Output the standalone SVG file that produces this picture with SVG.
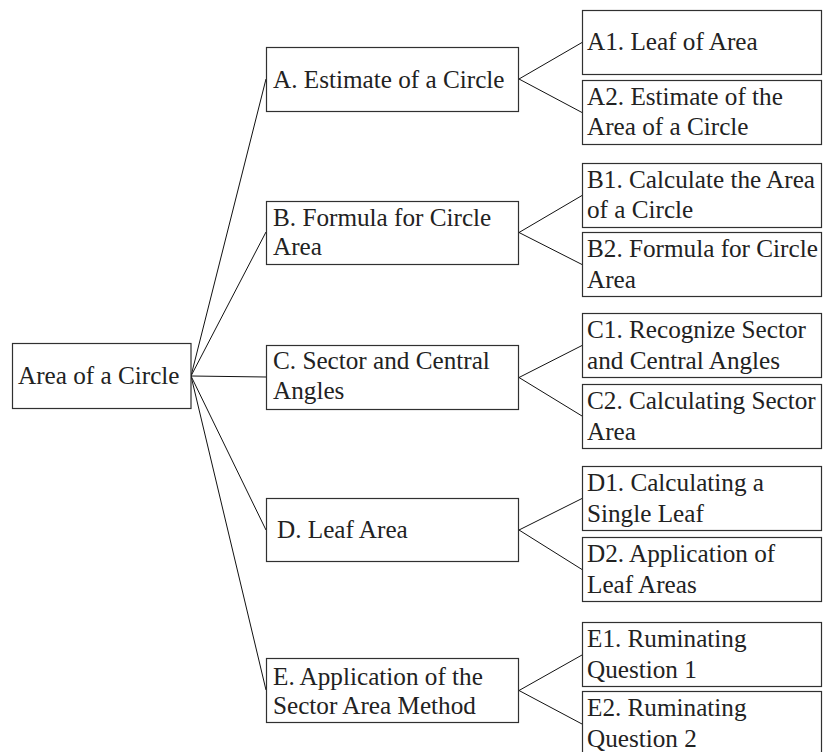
<svg xmlns="http://www.w3.org/2000/svg" width="823" height="752" viewBox="0 0 823 752">
  <style>
    .box { fill: #ffffff; stroke: #303030; stroke-width: 1.2; }
    .lbl { font-family: "Liberation Serif", "Times New Roman", serif; font-size: 25.2px; fill: #222222; }
    .link { fill: none; stroke: #111111; stroke-width: 1; }
  </style>
  <rect width="823" height="752" fill="#ffffff"/>

  <!-- connectors -->
  <g id="connectors" class="link">
    <path d="M191 376 L266 79"/>
    <path d="M191 376 L266 232"/>
    <path d="M191 376 L266 377"/>
    <path d="M191 376 L266 530"/>
    <path d="M191 376 L266 690"/>

    <path d="M519 79 L582 42.5"/>
    <path d="M519 79 L582 112.5"/>
    <path d="M519 232.5 L582 195.5"/>
    <path d="M519 232.5 L582 264.5"/>
    <path d="M519 377.5 L582 345.5"/>
    <path d="M519 377.5 L582 416"/>
    <path d="M519 530 L582 498.5"/>
    <path d="M519 530 L582 569.5"/>
    <path d="M519 690.5 L582 655"/>
    <path d="M519 690.5 L582 724"/>
  </g>

  <!-- root -->
  <g id="root">
    <rect class="box" x="12.5" y="343.5" width="178.5" height="65"/>
    <text class="lbl" x="18" y="384">Area of a Circle</text>
  </g>

  <!-- first level -->
  <g id="nodeA">
    <rect class="box" x="266.5" y="47.5" width="252" height="64"/>
    <text class="lbl" x="273" y="88">A. Estimate of a Circle</text>
  </g>
  <g id="nodeB">
    <rect class="box" x="266.5" y="201.5" width="252" height="63"/>
    <text class="lbl" x="273" y="226">B. Formula for Circle</text>
    <text class="lbl" x="273" y="255">Area</text>
  </g>
  <g id="nodeC">
    <rect class="box" x="266.5" y="345.5" width="252" height="64"/>
    <text class="lbl" x="273" y="369">C. Sector and Central</text>
    <text class="lbl" x="273" y="399">Angles</text>
  </g>
  <g id="nodeD">
    <rect class="box" x="266.5" y="498.5" width="252" height="63"/>
    <text class="lbl" x="277" y="538">D. Leaf Area</text>
  </g>
  <g id="nodeE">
    <rect class="box" x="266.5" y="658.5" width="252" height="64"/>
    <text class="lbl" x="273" y="685">E. Application of the</text>
    <text class="lbl" x="273" y="714">Sector Area Method</text>
  </g>

  <!-- second level -->
  <g id="nodeA1">
    <rect class="box" x="582.5" y="10.5" width="239" height="64"/>
    <text class="lbl" x="587" y="50">A1. Leaf of Area</text>
  </g>
  <g id="nodeA2">
    <rect class="box" x="582.5" y="80.5" width="239" height="64"/>
    <text class="lbl" x="587" y="105">A2. Estimate of the</text>
    <text class="lbl" x="587" y="135">Area of a Circle</text>
  </g>
  <g id="nodeB1">
    <rect class="box" x="582.5" y="163.5" width="239" height="64"/>
    <text class="lbl" x="587" y="188">B1. Calculate the Area</text>
    <text class="lbl" x="587" y="218">of a Circle</text>
  </g>
  <g id="nodeB2">
    <rect class="box" x="582.5" y="232.5" width="239" height="64"/>
    <text class="lbl" x="587" y="257">B2. Formula for Circle</text>
    <text class="lbl" x="587" y="288">Area</text>
  </g>
  <g id="nodeC1">
    <rect class="box" x="582.5" y="313.5" width="239" height="64"/>
    <text class="lbl" x="587" y="338">C1. Recognize Sector</text>
    <text class="lbl" x="587" y="369">and Central Angles</text>
  </g>
  <g id="nodeC2">
    <rect class="box" x="582.5" y="384.5" width="239" height="64"/>
    <text class="lbl" x="587" y="409">C2. Calculating Sector</text>
    <text class="lbl" x="587" y="440">Area</text>
  </g>
  <g id="nodeD1">
    <rect class="box" x="582.5" y="466.5" width="239" height="64"/>
    <text class="lbl" x="587" y="491">D1. Calculating a</text>
    <text class="lbl" x="587" y="522">Single Leaf</text>
  </g>
  <g id="nodeD2">
    <rect class="box" x="582.5" y="537.5" width="239" height="64"/>
    <text class="lbl" x="587" y="562">D2. Application of</text>
    <text class="lbl" x="587" y="593">Leaf Areas</text>
  </g>
  <g id="nodeE1">
    <rect class="box" x="582.5" y="622.5" width="239" height="64"/>
    <text class="lbl" x="587" y="647">E1. Ruminating</text>
    <text class="lbl" x="587" y="678">Question 1</text>
  </g>
  <g id="nodeE2">
    <rect class="box" x="582.5" y="691.5" width="239" height="64"/>
    <text class="lbl" x="587" y="716">E2. Ruminating</text>
    <text class="lbl" x="587" y="747">Question 2</text>
  </g>
</svg>
